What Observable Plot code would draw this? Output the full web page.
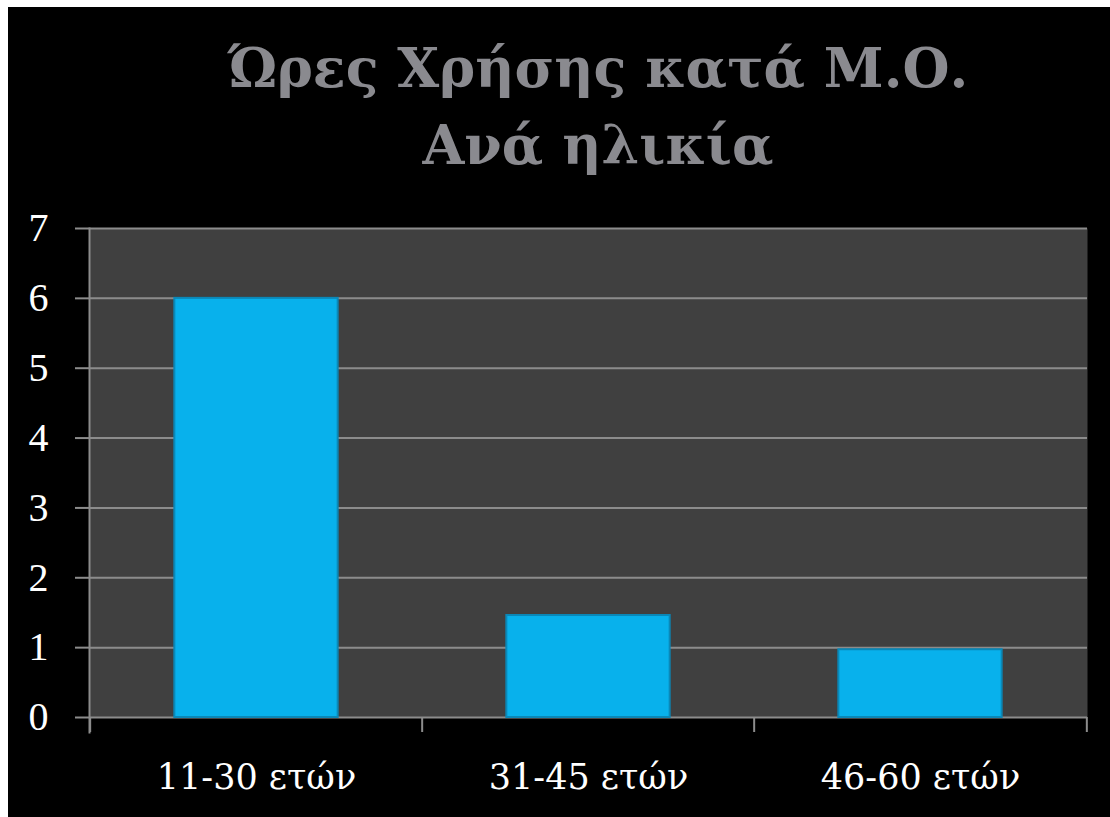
<!DOCTYPE html>
<html>
<head>
<meta charset="utf-8">
<script src="https://cdn.jsdelivr.net/npm/d3@7"></script>
<script src="https://cdn.jsdelivr.net/npm/@observablehq/plot@0.6"></script>
<style>
  html, body { margin: 0; padding: 0; background: #ffffff; width: 1110px; height: 817px; overflow: hidden; }
  #bg { position: absolute; left: 8px; top: 7px; width: 1102px; height: 810px; background: #000000; }
  #title { position: absolute; left: 0; width: 1196px; top: 30px; text-align: center;
    font-family: "DejaVu Serif", serif; font-weight: bold; font-size: 54px; line-height: 77px; color: #8a8a8f; }
  #chart { position: absolute; left: 0; top: 190px; }
  #chart svg { background: transparent; }
</style>
</head>
<body>
<div id="bg"></div>
<div id="title">Ώρες Χρήσης κατά Μ.Ο.<br>Ανά ηλικία</div>
<div id="chart"></div>
<script>
const categories = ["11-30 ετών", "31-45 ετών", "46-60 ετών"];
const values = [6, 1.46, 0.97];
const yTicks = [0, 1, 2, 3, 4, 5, 6, 7];

const data = categories.map((c, i) => ({category: c, value: values[i]}));

const width = 1110, height = 627;
const marginLeft = 89, marginRight = 23, marginTop = 38, marginBottom = 100;
const band = (width - marginLeft - marginRight) / categories.length;
const barInset = (band - 164) / 2;
const grid = "#8c8c8c";

const chart = Plot.plot({
  width, height, marginLeft, marginRight, marginTop, marginBottom,
  style: {background: "transparent", color: "#ffffff"},
  x: {domain: categories, padding: 0, label: null},
  y: {domain: [0, 7], label: null},
  marks: [
    Plot.frame({fill: "#404040", stroke: null}),
    Plot.ruleY(yTicks, {stroke: grid, strokeWidth: 2}),
    Plot.frame({anchor: "left", stroke: grid, strokeWidth: 2, insetBottom: -15}),
    Plot.barY(data, {x: "category", y: "value", fill: "#08b1ec", stroke: "#0a88b8", strokeWidth: 2,
      insetLeft: barInset, insetRight: barInset}),
    Plot.ruleX(categories, {x: d => d, y1: 0, y2: 0, stroke: grid, strokeWidth: 2, dx: -band / 2,
      insetBottom: -15}),
    Plot.ruleX([categories[categories.length - 1]], {x: d => d, y1: 0, y2: 0, stroke: grid, strokeWidth: 2, dx: band / 2,
      insetBottom: -15}),
    Plot.axisY(yTicks, {tickSize: 14, tickPadding: 27, stroke: grid, strokeWidth: 2, fontSize: 40,
      tickFormat: d3.format("d"), fontFamily: "Liberation Serif", fill: "#ffffff", label: null}),
    Plot.axisX({tickSize: 0, tickPadding: 47, fontSize: 35, fontFamily: "DejaVu Serif", fill: "#ffffff", label: null})
  ]
});
document.getElementById("chart").appendChild(chart);
</script>
</body>
</html>
